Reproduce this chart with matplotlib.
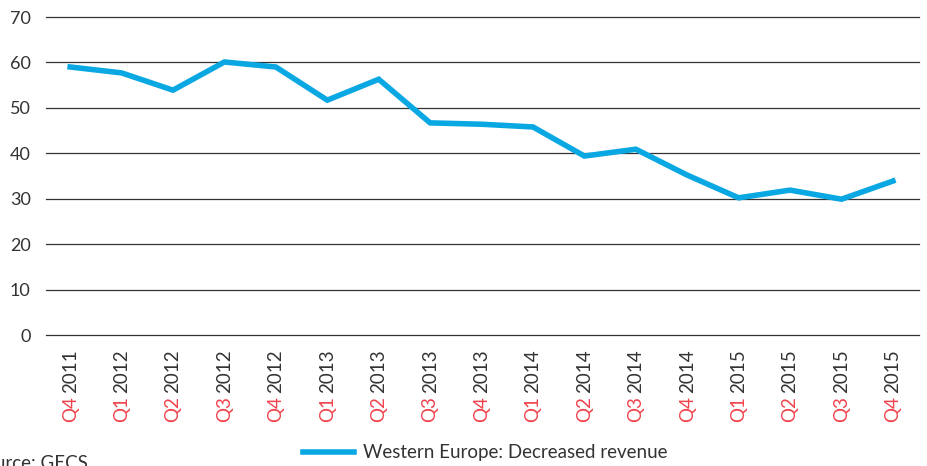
import numpy as np
import matplotlib
matplotlib.use("Agg")
import matplotlib.pyplot as plt

plt.rcParams['font.family'] = ['Lato', 'DejaVu Sans']

quarters = ["Q4", "Q1", "Q2", "Q3", "Q4", "Q1", "Q2", "Q3", "Q4",
            "Q1", "Q2", "Q3", "Q4", "Q1", "Q2", "Q3", "Q4"]
years = ["2011", "2012", "2012", "2012", "2012", "2013", "2013", "2013", "2013",
         "2014", "2014", "2014", "2014", "2015", "2015", "2015", "2015"]
decreased_revenue = [59.0, 57.7, 53.9, 60.1, 59.0, 51.7, 56.3, 46.7, 46.4,
                     45.8, 39.4, 40.9, 35.2, 30.2, 31.9, 29.9, 33.9]
yticks = [0, 10, 20, 30, 40, 50, 60, 70]

blue = '#0aa8e2'
red = '#f0434c'
grey = '#333333'

fig = plt.figure(figsize=(9.27, 4.66), dpi=100)
ax = fig.add_axes([0.0496, 0.281, 0.9414, 0.6825])

x = np.arange(len(decreased_revenue))
ax.plot(x, decreased_revenue, color=blue, linewidth=4, solid_joinstyle='miter',
        label="Western Europe: Decreased revenue", zorder=3)

ax.set_ylim(0, 70)
ax.set_xlim(-0.47, 16.5)
ax.set_yticks(yticks)
ax.yaxis.grid(True, color=grey, linewidth=0.9)
for gl in ax.yaxis.get_gridlines():
    gl.set_clip_on(False)
ax.set_axisbelow(True)
for s in ax.spines.values():
    s.set_visible(False)
ax.tick_params(axis='y', length=0, pad=11, labelsize=13, labelcolor=grey)
ax.set_xticks([])

# two-colour rotated tick labels
for i in range(len(x)):
    yr = ax.annotate(years[i], xy=(i, 0), xycoords=('data', 'axes fraction'),
                     xytext=(0, -10), textcoords='offset points',
                     rotation=90, ha='center', va='top', fontsize=13.5, color=grey)
    ax.annotate(quarters[i], xy=(0.5, 0), xycoords=yr,
                xytext=(0, -2.5), textcoords='offset points',
                rotation=90, ha='center', va='top', fontsize=13.5, color=red)

fig.legend(loc='center', bbox_to_anchor=(0.524, 0.028), frameon=False,
           fontsize=13.5, handlelength=2.7, handletextpad=0.5, labelcolor=grey)

fig.text(-0.028, 0.024, "Source: GECS", ha='left', va='top', fontsize=13.5, color=grey)

fig.savefig("out.png", dpi=100)
